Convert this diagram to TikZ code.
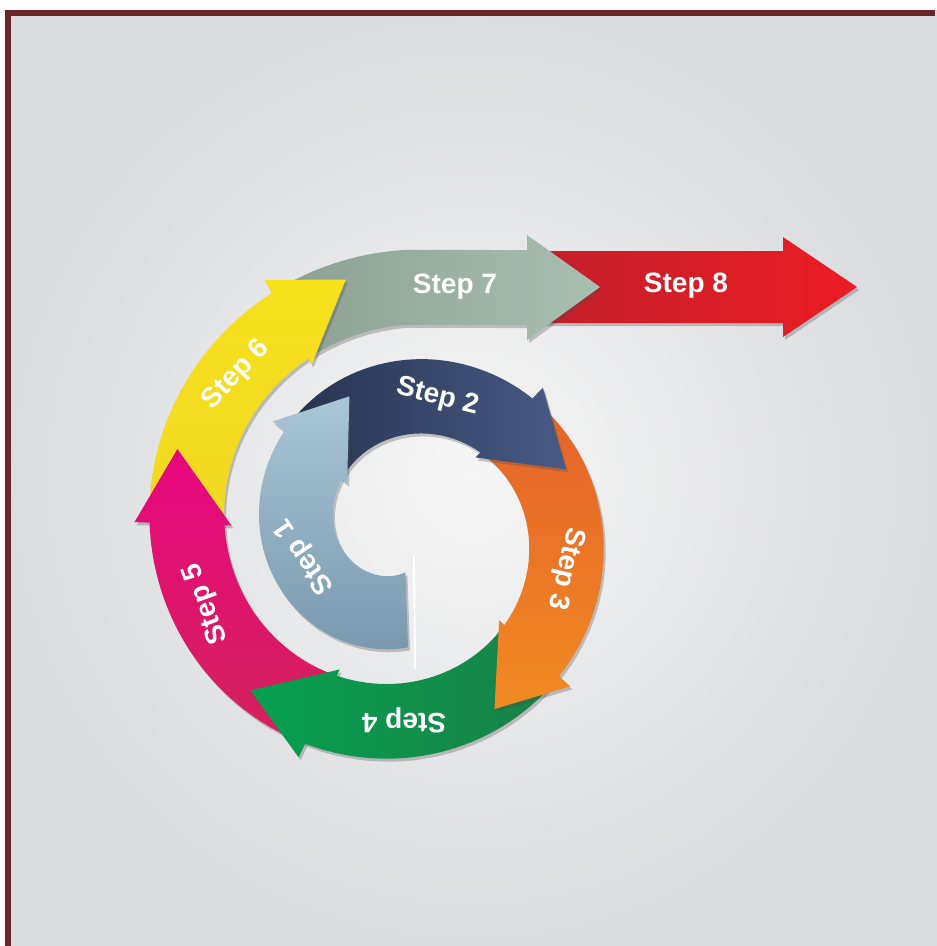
\documentclass[tikz,border=0pt]{standalone}
\usepackage{fontspec}
\setmainfont{Liberation Sans}
\usetikzlibrary{shadows}

\definecolor{bgin}{HTML}{F6F6F6}
\definecolor{bgout}{HTML}{DADBDE}
\definecolor{frame}{HTML}{6B2427}
\definecolor{s1a}{HTML}{A9C6D6}
\definecolor{s1b}{HTML}{7A99AF}
\definecolor{s2a}{HTML}{26324D}
\definecolor{s2b}{HTML}{485B87}
\definecolor{s3a}{HTML}{E4612B}
\definecolor{s3b}{HTML}{F28B22}
\definecolor{s4a}{HTML}{06A050}
\definecolor{s4b}{HTML}{1A8046}
\definecolor{s5a}{HTML}{E8067F}
\definecolor{s5b}{HTML}{D3245A}
\definecolor{s6a}{HTML}{F6E11C}
\definecolor{s6b}{HTML}{F2D823}
\definecolor{s7a}{HTML}{8C9E92}
\definecolor{s7b}{HTML}{A9BFB2}
\definecolor{s8a}{HTML}{C21F2A}
\definecolor{s8b}{HTML}{EC1C24}

\tikzset{
    steplabel/.style={text=white, font=\fontsize{28}{30}\selectfont\bfseries},
    stepshadow/.style={drop shadow={shadow xshift=2pt, shadow yshift=-3pt, opacity=.3, fill=black!70}},
}

\begin{document}
\begin{tikzpicture}[x=1pt,y=-1pt]
    \pgfmathsetmacro{\cx}{404}
    \pgfmathsetmacro{\cy}{531.5}
    \pgfmathsetmacro{\ra}{116.5}
    \pgfmathsetmacro{\rb}{0.3056}
    \pgfmathsetmacro{\w}{75}

    \useasboundingbox (0,0) rectangle (937,946);
    \fill[white] (0,0) rectangle (937,946);
    \shade[inner color=bgin, outer color=bgout] (5,10) rectangle (937,946);
    \draw[frame, line width=6pt] (8,946) -- (8,13) -- (935,13);

    % straight part
    \path[stepshadow, top color=s8a, bottom color=s8b, shading angle=90]
        (540,251) -- (783,251) -- (783,237) -- (857,287) -- (783,337) -- (783,323) -- (540,323) -- cycle;
    \node[steplabel] (s8) at (686,286) {Step 8};

    \path[stepshadow, top color=s7a, bottom color=s7b, shading angle=90]
        plot[domain=511:540, samples=20] ({\cx-(\ra+\rb*\x)*sin(\x)}, {\cy+(\ra+\rb*\x)*cos(\x)})
        -- (527,250) -- (527,235) -- (600,287) -- (527,340) -- (527,325)
        -- plot[domain=540:511, samples=20] ({\cx-(\ra+\rb*\x-\w)*sin(\x)}, {\cy+(\ra+\rb*\x-\w)*cos(\x)}) -- cycle;
    \node[steplabel] (s7) at (455,287) {Step 7};

    % spiral, outermost first
    \foreach \st/\bs/\tp/\ca/\cb/\sa/\la/\rt/\n in {452/511/527/s6a/s6b/0/493/47/6, 385/452/470/s5a/s5b/0/430/110/5,
        313/385/404/s4a/s4b/90/360/180/4, 224/313/333/s3a/s3b/0/283/-103/3, 130/224/249/s2a/s2b/90/194/-14/2, -2/130/158/s1a/s1b/0/76/124/1}{
        \path[stepshadow, top color=\ca, bottom color=\cb, shading angle=\sa]
            plot[domain=\st:\bs, samples=40] ({\cx-(\ra+\rb*\x)*sin(\x)}, {\cy+(\ra+\rb*\x)*cos(\x)})
            -- ({\cx-(\ra+\rb*\bs+15)*sin(\bs)}, {\cy+(\ra+\rb*\bs+15)*cos(\bs)})
            -- ({\cx-(\ra+\rb*\tp-19)*sin(\tp)}, {\cy+(\ra+\rb*\tp-19)*cos(\tp)})
            -- ({\cx-(\ra+\rb*\bs-\w-7)*sin(\bs)}, {\cy+(\ra+\rb*\bs-\w-7)*cos(\bs)})
            -- plot[domain=\bs:\st, samples=40] ({\cx-(\ra+\rb*\x-\w)*sin(\x)}, {\cy+(\ra+\rb*\x-\w)*cos(\x)}) -- cycle;
        \node[steplabel, rotate=\rt] (s\n) at ({\cx-(\ra+\rb*\la-\w/2)*sin(\la)}, {\cy+(\ra+\rb*\la-\w/2)*cos(\la)}) {Step \n};
    }
    % fold at the tail of step 1
    \draw[white, line width=2pt, line cap=round] (414,556) -- (415,668);
\end{tikzpicture}
\end{document}
